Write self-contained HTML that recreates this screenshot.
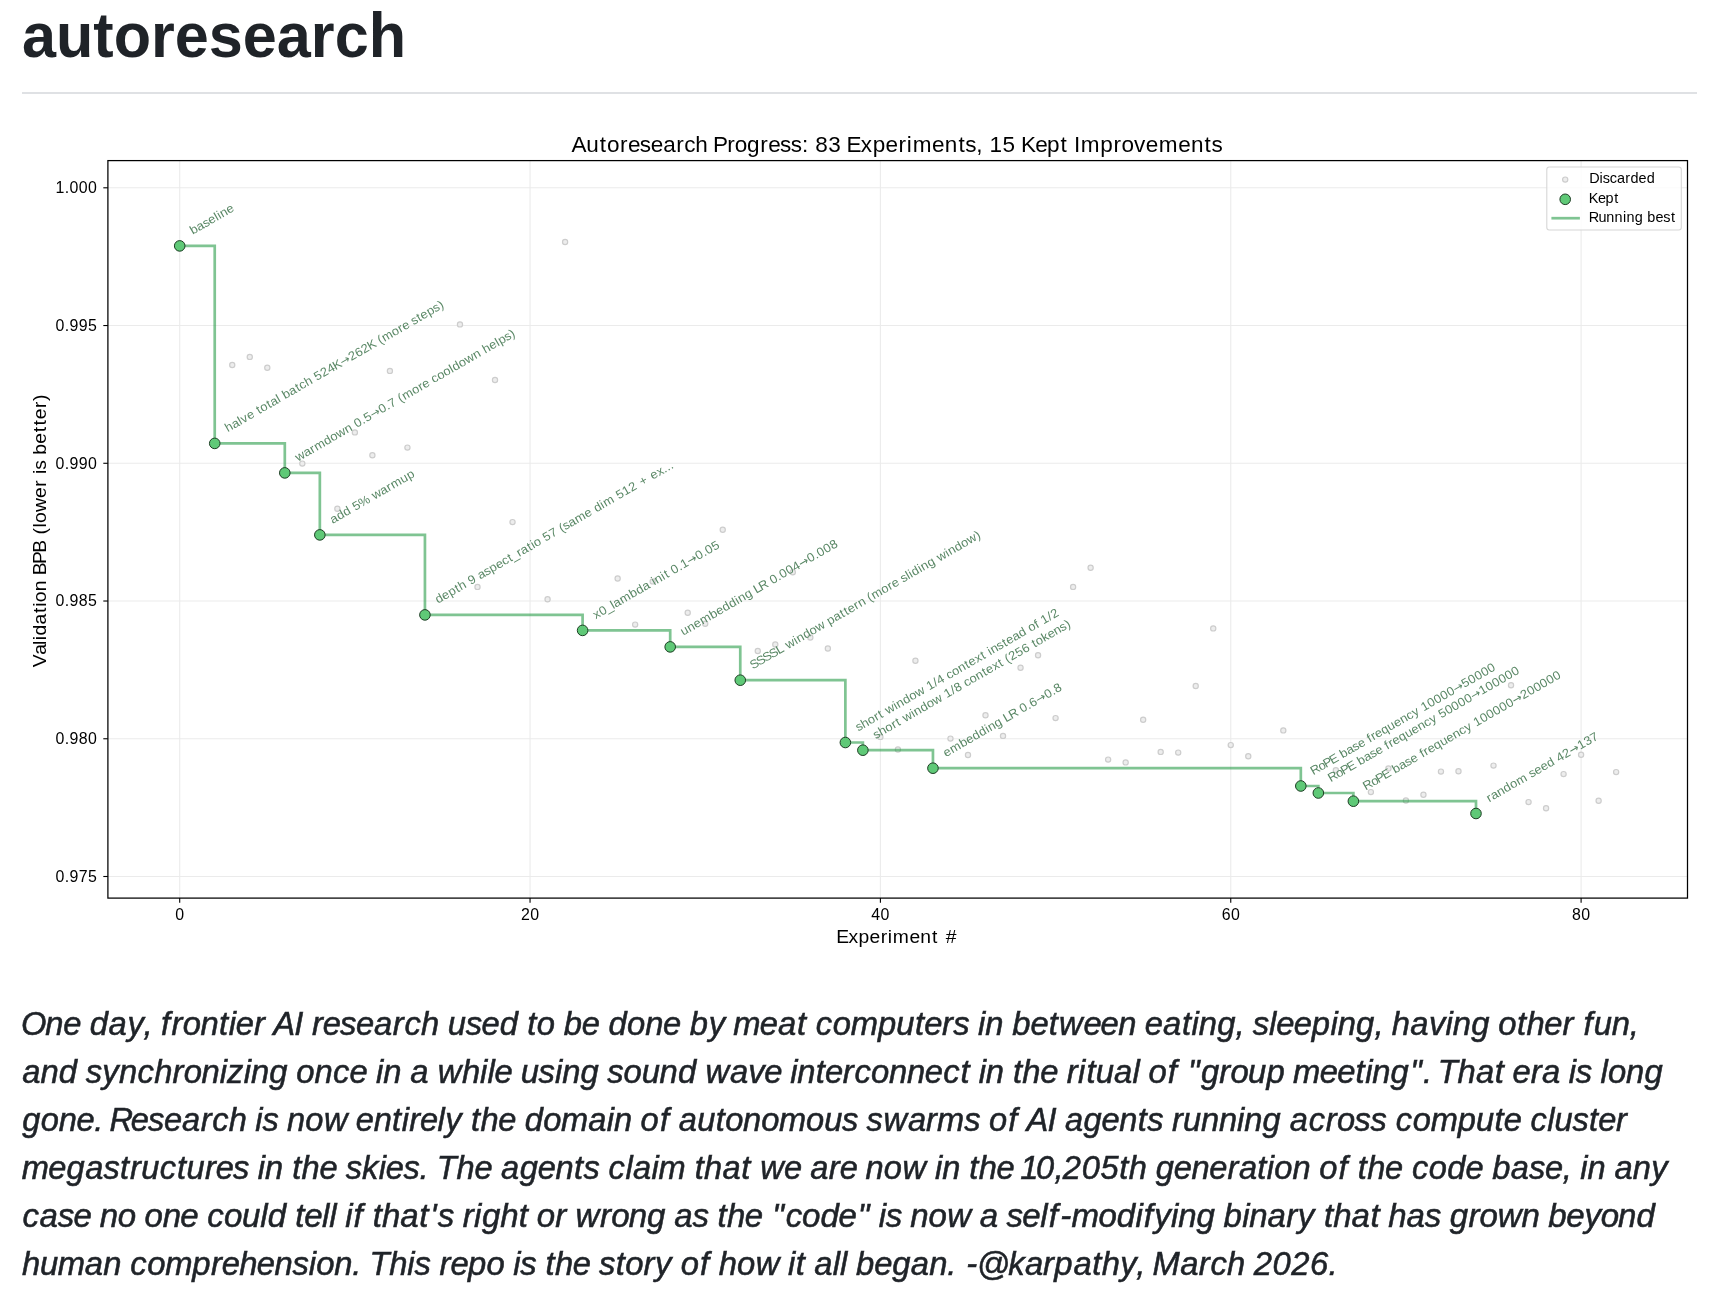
<!DOCTYPE html>
<html><head><meta charset="utf-8"><title>autoresearch</title>
<style>
html,body{margin:0;padding:0;background:#fff;}
body{width:1716px;height:1298px;overflow:hidden;position:relative;font-family:"Liberation Sans", sans-serif;}
svg{position:absolute;left:0;top:0;will-change:transform;}
svg text{font-family:"Liberation Sans", sans-serif;}
</style></head><body>
<svg width="1716" height="1298" viewBox="0 0 1716 1298">
<text x="22" y="57" font-size="63" font-weight="bold" fill="#1f2328" textLength="384" lengthAdjust="spacingAndGlyphs">autoresearch</text>
<rect x="22" y="92" width="1675" height="2" fill="#dfe1e4"/>
<line x1="179.70" y1="160.6" x2="179.70" y2="898.1" stroke="#ebebeb" stroke-width="1.1"/>
<line x1="530.05" y1="160.6" x2="530.05" y2="898.1" stroke="#ebebeb" stroke-width="1.1"/>
<line x1="880.40" y1="160.6" x2="880.40" y2="898.1" stroke="#ebebeb" stroke-width="1.1"/>
<line x1="1230.75" y1="160.6" x2="1230.75" y2="898.1" stroke="#ebebeb" stroke-width="1.1"/>
<line x1="1581.10" y1="160.6" x2="1581.10" y2="898.1" stroke="#ebebeb" stroke-width="1.1"/>
<line x1="107.9" y1="187.80" x2="1687.5" y2="187.80" stroke="#ebebeb" stroke-width="1.1"/>
<line x1="107.9" y1="325.54" x2="1687.5" y2="325.54" stroke="#ebebeb" stroke-width="1.1"/>
<line x1="107.9" y1="463.28" x2="1687.5" y2="463.28" stroke="#ebebeb" stroke-width="1.1"/>
<line x1="107.9" y1="601.02" x2="1687.5" y2="601.02" stroke="#ebebeb" stroke-width="1.1"/>
<line x1="107.9" y1="738.76" x2="1687.5" y2="738.76" stroke="#ebebeb" stroke-width="1.1"/>
<line x1="107.9" y1="876.50" x2="1687.5" y2="876.50" stroke="#ebebeb" stroke-width="1.1"/>
<circle cx="232.25" cy="365.00" r="2.6" fill="#ededed" stroke="#cdcdcd" stroke-width="1.2"/>
<circle cx="249.77" cy="356.90" r="2.6" fill="#ededed" stroke="#cdcdcd" stroke-width="1.2"/>
<circle cx="267.29" cy="367.80" r="2.6" fill="#ededed" stroke="#cdcdcd" stroke-width="1.2"/>
<circle cx="302.32" cy="463.60" r="2.6" fill="#ededed" stroke="#cdcdcd" stroke-width="1.2"/>
<circle cx="337.36" cy="508.80" r="2.6" fill="#ededed" stroke="#cdcdcd" stroke-width="1.2"/>
<circle cx="354.88" cy="432.40" r="2.6" fill="#ededed" stroke="#cdcdcd" stroke-width="1.2"/>
<circle cx="372.39" cy="455.30" r="2.6" fill="#ededed" stroke="#cdcdcd" stroke-width="1.2"/>
<circle cx="389.91" cy="370.90" r="2.6" fill="#ededed" stroke="#cdcdcd" stroke-width="1.2"/>
<circle cx="407.43" cy="447.60" r="2.6" fill="#ededed" stroke="#cdcdcd" stroke-width="1.2"/>
<circle cx="459.98" cy="324.40" r="2.6" fill="#ededed" stroke="#cdcdcd" stroke-width="1.2"/>
<circle cx="477.50" cy="586.90" r="2.6" fill="#ededed" stroke="#cdcdcd" stroke-width="1.2"/>
<circle cx="495.01" cy="380.00" r="2.6" fill="#ededed" stroke="#cdcdcd" stroke-width="1.2"/>
<circle cx="512.53" cy="522.10" r="2.6" fill="#ededed" stroke="#cdcdcd" stroke-width="1.2"/>
<circle cx="547.57" cy="599.30" r="2.6" fill="#ededed" stroke="#cdcdcd" stroke-width="1.2"/>
<circle cx="565.09" cy="242.00" r="2.6" fill="#ededed" stroke="#cdcdcd" stroke-width="1.2"/>
<circle cx="617.64" cy="578.50" r="2.6" fill="#ededed" stroke="#cdcdcd" stroke-width="1.2"/>
<circle cx="635.15" cy="624.60" r="2.6" fill="#ededed" stroke="#cdcdcd" stroke-width="1.2"/>
<circle cx="652.67" cy="581.40" r="2.6" fill="#ededed" stroke="#cdcdcd" stroke-width="1.2"/>
<circle cx="687.71" cy="612.80" r="2.6" fill="#ededed" stroke="#cdcdcd" stroke-width="1.2"/>
<circle cx="705.22" cy="623.70" r="2.6" fill="#ededed" stroke="#cdcdcd" stroke-width="1.2"/>
<circle cx="722.74" cy="529.80" r="2.6" fill="#ededed" stroke="#cdcdcd" stroke-width="1.2"/>
<circle cx="757.78" cy="651.00" r="2.6" fill="#ededed" stroke="#cdcdcd" stroke-width="1.2"/>
<circle cx="775.29" cy="644.50" r="2.6" fill="#ededed" stroke="#cdcdcd" stroke-width="1.2"/>
<circle cx="792.81" cy="572.30" r="2.6" fill="#ededed" stroke="#cdcdcd" stroke-width="1.2"/>
<circle cx="810.33" cy="637.50" r="2.6" fill="#ededed" stroke="#cdcdcd" stroke-width="1.2"/>
<circle cx="827.85" cy="648.50" r="2.6" fill="#ededed" stroke="#cdcdcd" stroke-width="1.2"/>
<circle cx="880.40" cy="736.90" r="2.6" fill="#ededed" stroke="#cdcdcd" stroke-width="1.2"/>
<circle cx="897.92" cy="749.50" r="2.6" fill="#ededed" stroke="#cdcdcd" stroke-width="1.2"/>
<circle cx="915.43" cy="660.70" r="2.6" fill="#ededed" stroke="#cdcdcd" stroke-width="1.2"/>
<circle cx="950.47" cy="738.60" r="2.6" fill="#ededed" stroke="#cdcdcd" stroke-width="1.2"/>
<circle cx="967.99" cy="755.00" r="2.6" fill="#ededed" stroke="#cdcdcd" stroke-width="1.2"/>
<circle cx="985.50" cy="715.30" r="2.6" fill="#ededed" stroke="#cdcdcd" stroke-width="1.2"/>
<circle cx="1003.02" cy="735.90" r="2.6" fill="#ededed" stroke="#cdcdcd" stroke-width="1.2"/>
<circle cx="1020.54" cy="667.80" r="2.6" fill="#ededed" stroke="#cdcdcd" stroke-width="1.2"/>
<circle cx="1038.06" cy="655.20" r="2.6" fill="#ededed" stroke="#cdcdcd" stroke-width="1.2"/>
<circle cx="1055.57" cy="718.10" r="2.6" fill="#ededed" stroke="#cdcdcd" stroke-width="1.2"/>
<circle cx="1073.09" cy="586.90" r="2.6" fill="#ededed" stroke="#cdcdcd" stroke-width="1.2"/>
<circle cx="1090.61" cy="567.80" r="2.6" fill="#ededed" stroke="#cdcdcd" stroke-width="1.2"/>
<circle cx="1108.13" cy="759.60" r="2.6" fill="#ededed" stroke="#cdcdcd" stroke-width="1.2"/>
<circle cx="1125.64" cy="762.40" r="2.6" fill="#ededed" stroke="#cdcdcd" stroke-width="1.2"/>
<circle cx="1143.16" cy="719.80" r="2.6" fill="#ededed" stroke="#cdcdcd" stroke-width="1.2"/>
<circle cx="1160.68" cy="751.90" r="2.6" fill="#ededed" stroke="#cdcdcd" stroke-width="1.2"/>
<circle cx="1178.20" cy="752.60" r="2.6" fill="#ededed" stroke="#cdcdcd" stroke-width="1.2"/>
<circle cx="1195.71" cy="686.00" r="2.6" fill="#ededed" stroke="#cdcdcd" stroke-width="1.2"/>
<circle cx="1213.23" cy="628.40" r="2.6" fill="#ededed" stroke="#cdcdcd" stroke-width="1.2"/>
<circle cx="1230.75" cy="745.10" r="2.6" fill="#ededed" stroke="#cdcdcd" stroke-width="1.2"/>
<circle cx="1248.27" cy="756.30" r="2.6" fill="#ededed" stroke="#cdcdcd" stroke-width="1.2"/>
<circle cx="1283.30" cy="730.40" r="2.6" fill="#ededed" stroke="#cdcdcd" stroke-width="1.2"/>
<circle cx="1335.86" cy="770.20" r="2.6" fill="#ededed" stroke="#cdcdcd" stroke-width="1.2"/>
<circle cx="1370.89" cy="792.10" r="2.6" fill="#ededed" stroke="#cdcdcd" stroke-width="1.2"/>
<circle cx="1388.41" cy="768.50" r="2.6" fill="#ededed" stroke="#cdcdcd" stroke-width="1.2"/>
<circle cx="1405.92" cy="800.50" r="2.6" fill="#ededed" stroke="#cdcdcd" stroke-width="1.2"/>
<circle cx="1423.44" cy="794.70" r="2.6" fill="#ededed" stroke="#cdcdcd" stroke-width="1.2"/>
<circle cx="1440.96" cy="771.60" r="2.6" fill="#ededed" stroke="#cdcdcd" stroke-width="1.2"/>
<circle cx="1458.48" cy="771.20" r="2.6" fill="#ededed" stroke="#cdcdcd" stroke-width="1.2"/>
<circle cx="1493.51" cy="765.60" r="2.6" fill="#ededed" stroke="#cdcdcd" stroke-width="1.2"/>
<circle cx="1511.03" cy="685.20" r="2.6" fill="#ededed" stroke="#cdcdcd" stroke-width="1.2"/>
<circle cx="1528.55" cy="802.10" r="2.6" fill="#ededed" stroke="#cdcdcd" stroke-width="1.2"/>
<circle cx="1546.06" cy="808.30" r="2.6" fill="#ededed" stroke="#cdcdcd" stroke-width="1.2"/>
<circle cx="1563.58" cy="774.10" r="2.6" fill="#ededed" stroke="#cdcdcd" stroke-width="1.2"/>
<circle cx="1581.10" cy="754.80" r="2.6" fill="#ededed" stroke="#cdcdcd" stroke-width="1.2"/>
<circle cx="1598.62" cy="800.80" r="2.6" fill="#ededed" stroke="#cdcdcd" stroke-width="1.2"/>
<circle cx="1616.13" cy="772.10" r="2.6" fill="#ededed" stroke="#cdcdcd" stroke-width="1.2"/>
<path d="M179.70,245.90 L214.73,245.90 L214.73,443.40 L284.80,443.40 L284.80,472.90 L319.84,472.90 L319.84,534.90 L424.94,534.90 L424.94,614.90 L582.60,614.90 L582.60,630.40 L670.19,630.40 L670.19,646.90 L740.26,646.90 L740.26,680.20 L845.37,680.20 L845.37,742.50 L862.88,742.50 L862.88,750.20 L932.95,750.20 L932.95,768.20 L1300.82,768.20 L1300.82,786.00 L1318.34,786.00 L1318.34,793.00 L1353.37,793.00 L1353.37,801.20 L1475.99,801.20 L1475.99,813.50" fill="none" stroke="#2a9c4a" stroke-opacity="0.6" stroke-width="2.7" stroke-linejoin="miter"/>
<g transform="translate(192.70,234.90) rotate(-30)" fill="#5a8866"><text transform="scale(1.05,1)" x="0.12 7.06 13.71 19.68 26.70 29.79 32.81 39.76" y="0" font-size="12.26">baseline</text></g>
<g transform="translate(227.73,432.40) rotate(-30)" fill="#5a8866"><path transform="translate(132.68,0) scale(0.00570,-0.00570)" d="M1616 687V597L1223 204L1103 324L1336 557H117V727H1336L1103 960L1223 1080Z"/><text transform="scale(1.05,1)" x="0.11 7.05 14.05 17.18 23.55 30.45 34.40 38.27 45.56 49.45 56.45 59.42 63.01 69.95 77.25 81.12 87.36 94.36 97.96 105.04 112.12 118.62 135.81 142.89 149.96 156.47 164.27 167.87 172.39 182.91 189.97 194.31 200.96 204.27 210.71 214.60 221.55 228.33 234.42" y="0" font-size="12.26">halve total batch 524K262K (more steps)</text></g>
<g transform="translate(297.80,461.90) rotate(-30)" fill="#5a8866"><path transform="translate(86.49,0) scale(0.00570,-0.00570)" d="M1616 687V597L1223 204L1103 324L1336 557H117V727H1336L1103 960L1223 1080Z"/><text transform="scale(1.05,1)" x="0.12 9.10 16.16 20.80 31.25 38.18 45.12 54.21 61.21 64.81 71.82 75.42 91.82 98.83 102.43 109.45 113.04 117.57 128.09 135.14 139.48 146.14 149.60 155.72 162.52 169.52 172.55 179.48 186.41 195.50 202.50 206.09 213.04 220.05 223.08 229.85 235.94" y="0" font-size="12.26">warmdown 0.50.7 (more cooldown helps)</text></g>
<g transform="translate(332.84,523.90) rotate(-30)" fill="#5a8866"><text transform="scale(1.05,1)" x="-0.00 6.94 14.00 21.00 24.60 31.38 42.19 45.78 54.75 61.82 66.46 76.90 83.96" y="0" font-size="12.26">add 5% warmup</text></g>
<g transform="translate(437.94,603.90) rotate(-30)" fill="#5a8866"><text transform="scale(1.05,1)" x="0.12 7.07 14.02 21.44 25.44 32.44 36.04 43.06 46.52 53.18 59.26 66.21 73.04 79.64 82.89 89.33 93.65 100.95 105.02 107.92 114.80 118.40 125.47 132.49 136.09 140.13 146.09 153.22 163.76 170.65 174.25 181.37 184.59 195.18 198.78 205.85 212.93 219.95 224.50 232.80 236.29 243.34 249.57 253.11 256.64" y="0" font-size="12.26">depth 9 aspect_ratio 57 (same dim 512 + ex...</text></g>
<g transform="translate(595.60,619.40) rotate(-30)" fill="#5a8866"><path transform="translate(108.42,0) scale(0.00570,-0.00570)" d="M1616 687V597L1223 204L1103 324L1336 557H117V727H1336L1103 960L1223 1080Z"/><text transform="scale(1.05,1)" x="0.23 6.71 13.03 19.41 22.31 29.44 40.09 47.15 54.09 60.97 64.62 67.65 74.76 78.15 82.10 85.70 92.71 96.31 112.71 119.72 123.32 130.40" y="0" font-size="12.26">x0_lambda init 0.10.05</text></g>
<g transform="translate(683.19,635.90) rotate(-30)" fill="#5a8866"><path transform="translate(136.35,0) scale(0.00570,-0.00570)" d="M1616 687V597L1223 204L1103 324L1336 557H117V727H1336L1103 960L1223 1080Z"/><text transform="scale(1.05,1)" x="0.11 7.17 14.11 21.25 31.90 38.85 45.81 52.87 59.99 63.01 70.07 77.07 80.23 86.18 94.54 98.14 105.15 108.75 115.83 122.90 139.30 146.31 149.91 156.99 164.07" y="0" font-size="12.26">unembedding LR 0.0040.008</text></g>
<g transform="translate(753.26,669.20) rotate(-30)" fill="#5a8866"><text transform="scale(1.05,1)" x="-0.56 6.50 13.56 20.62 27.93 34.51 38.10 47.26 50.28 57.34 64.27 71.20 80.24 83.84 90.78 98.07 102.43 106.33 113.41 117.85 124.65 128.25 132.78 143.29 150.35 154.69 161.34 164.65 170.79 173.88 176.91 184.04 187.06 194.11 201.12 204.71 213.87 216.89 223.95 230.88 237.82 246.92" y="0" font-size="12.26">SSSSL window pattern (more sliding window)</text></g>
<g transform="translate(858.37,731.50) rotate(-30)" fill="#5a8866"><text transform="scale(1.05,1)" x="-0.17 5.91 12.84 19.90 24.70 28.65 32.24 41.40 44.43 51.48 58.41 65.35 74.39 77.99 85.11 88.82 95.83 99.29 105.41 112.34 119.75 123.65 130.70 137.34 141.29 144.95 147.97 154.73 161.18 165.07 171.90 178.84 185.85 189.31 196.38 200.10 203.70 210.82 214.53" y="0" font-size="12.26">short window 1/4 context instead of 1/2</text></g>
<g transform="translate(875.88,739.20) rotate(-30)" fill="#5a8866"><text transform="scale(1.05,1)" x="-0.17 5.91 12.84 19.90 24.70 28.65 32.24 41.40 44.43 51.48 58.41 65.35 74.39 77.99 85.11 88.82 95.83 99.29 105.41 112.34 119.75 123.65 130.70 137.34 141.29 144.89 149.23 156.31 163.39 170.40 174.35 178.22 185.19 191.49 198.04 204.81 210.90" y="0" font-size="12.26">short window 1/8 context (256 tokens)</text></g>
<g transform="translate(945.95,757.20) rotate(-30)" fill="#5a8866"><path transform="translate(106.68,0) scale(0.00570,-0.00570)" d="M1616 687V597L1223 204L1103 324L1336 557H117V727H1336L1103 960L1223 1080Z"/><text transform="scale(1.05,1)" x="0.01 7.15 17.80 24.75 31.70 38.77 45.89 48.91 55.97 62.97 66.13 72.08 80.44 84.04 91.05 94.65 111.05 118.06 121.66" y="0" font-size="12.26">embedding LR 0.60.8</text></g>
<g transform="translate(1313.82,775.00) rotate(-30)" fill="#5a8866"><path transform="translate(163.88,0) scale(0.00570,-0.00570)" d="M1616 687V597L1223 204L1103 324L1336 557H117V727H1336L1103 960L1223 1080Z"/><text transform="scale(1.05,1)" x="-0.56 7.72 13.30 20.17 27.84 31.43 38.37 45.02 50.99 57.89 61.61 65.52 69.86 76.57 83.63 90.57 97.52 104.45 110.80 117.22 120.82 127.90 134.97 142.05 149.13 165.53 172.60 179.68 186.76 193.83" y="0" font-size="12.26">RoPE base frequency 1000050000</text></g>
<g transform="translate(1331.34,782.00) rotate(-30)" fill="#5a8866"><path transform="translate(163.88,0) scale(0.00570,-0.00570)" d="M1616 687V597L1223 204L1103 324L1336 557H117V727H1336L1103 960L1223 1080Z"/><text transform="scale(1.05,1)" x="-0.56 7.72 13.30 20.17 27.84 31.43 38.37 45.02 50.99 57.89 61.61 65.52 69.86 76.57 83.63 90.57 97.52 104.45 110.80 117.22 120.82 127.90 134.97 142.05 149.13 165.53 172.60 179.68 186.76 193.83 200.91" y="0" font-size="12.26">RoPE base frequency 50000100000</text></g>
<g transform="translate(1366.37,790.20) rotate(-30)" fill="#5a8866"><path transform="translate(171.31,0) scale(0.00570,-0.00570)" d="M1616 687V597L1223 204L1103 324L1336 557H117V727H1336L1103 960L1223 1080Z"/><text transform="scale(1.05,1)" x="-0.56 7.72 13.30 20.17 27.84 31.43 38.37 45.02 50.99 57.89 61.61 65.52 69.86 76.57 83.63 90.57 97.52 104.45 110.80 117.22 120.82 127.90 134.97 142.05 149.13 156.20 172.60 179.68 186.76 193.83 200.91 207.99" y="0" font-size="12.26">RoPE base frequency 100000200000</text></g>
<g transform="translate(1488.99,802.50) rotate(-30)" fill="#5a8866"><path transform="translate(95.46,0) scale(0.00570,-0.00570)" d="M1616 687V597L1223 204L1103 324L1336 557H117V727H1336L1103 960L1223 1080Z"/><text transform="scale(1.05,1)" x="0.24 4.57 11.50 18.56 25.49 32.62 43.21 46.51 52.49 59.33 66.28 73.29 76.89 83.96 100.36 107.44 114.52" y="0" font-size="12.26">random seed 42137</text></g>
<circle cx="179.70" cy="245.90" r="5.3" fill="#5fc977" stroke="#1d3d24" stroke-width="1.0"/>
<circle cx="214.73" cy="443.40" r="5.3" fill="#5fc977" stroke="#1d3d24" stroke-width="1.0"/>
<circle cx="284.80" cy="472.90" r="5.3" fill="#5fc977" stroke="#1d3d24" stroke-width="1.0"/>
<circle cx="319.84" cy="534.90" r="5.3" fill="#5fc977" stroke="#1d3d24" stroke-width="1.0"/>
<circle cx="424.94" cy="614.90" r="5.3" fill="#5fc977" stroke="#1d3d24" stroke-width="1.0"/>
<circle cx="582.60" cy="630.40" r="5.3" fill="#5fc977" stroke="#1d3d24" stroke-width="1.0"/>
<circle cx="670.19" cy="646.90" r="5.3" fill="#5fc977" stroke="#1d3d24" stroke-width="1.0"/>
<circle cx="740.26" cy="680.20" r="5.3" fill="#5fc977" stroke="#1d3d24" stroke-width="1.0"/>
<circle cx="845.37" cy="742.50" r="5.3" fill="#5fc977" stroke="#1d3d24" stroke-width="1.0"/>
<circle cx="862.88" cy="750.20" r="5.3" fill="#5fc977" stroke="#1d3d24" stroke-width="1.0"/>
<circle cx="932.95" cy="768.20" r="5.3" fill="#5fc977" stroke="#1d3d24" stroke-width="1.0"/>
<circle cx="1300.82" cy="786.00" r="5.3" fill="#5fc977" stroke="#1d3d24" stroke-width="1.0"/>
<circle cx="1318.34" cy="793.00" r="5.3" fill="#5fc977" stroke="#1d3d24" stroke-width="1.0"/>
<circle cx="1353.37" cy="801.20" r="5.3" fill="#5fc977" stroke="#1d3d24" stroke-width="1.0"/>
<circle cx="1475.99" cy="813.50" r="5.3" fill="#5fc977" stroke="#1d3d24" stroke-width="1.0"/>
<rect x="107.9" y="160.6" width="1579.60" height="737.50" fill="none" stroke="#000" stroke-width="1.25"/>
<line x1="179.70" y1="898.1" x2="179.70" y2="902.70" stroke="#000" stroke-width="1.1"/>
<text transform="translate(175.06,919.90) scale(1.0,1)" x="0.22" y="0" font-size="15.91" fill="#000" >0</text>
<line x1="530.05" y1="898.1" x2="530.05" y2="902.70" stroke="#000" stroke-width="1.1"/>
<text transform="translate(520.76,919.90) scale(1.0,1)" x="0.22 9.51" y="0" font-size="15.91" fill="#000" >20</text>
<line x1="880.40" y1="898.1" x2="880.40" y2="902.70" stroke="#000" stroke-width="1.1"/>
<text transform="translate(871.11,919.90) scale(1.0,1)" x="0.22 9.51" y="0" font-size="15.91" fill="#000" >40</text>
<line x1="1230.75" y1="898.1" x2="1230.75" y2="902.70" stroke="#000" stroke-width="1.1"/>
<text transform="translate(1221.46,919.90) scale(1.0,1)" x="0.22 9.51" y="0" font-size="15.91" fill="#000" >60</text>
<line x1="1581.10" y1="898.1" x2="1581.10" y2="902.70" stroke="#000" stroke-width="1.1"/>
<text transform="translate(1571.81,919.90) scale(1.0,1)" x="0.22 9.51" y="0" font-size="15.91" fill="#000" >80</text>
<line x1="103.30" y1="187.80" x2="107.9" y2="187.80" stroke="#000" stroke-width="1.1"/>
<text transform="translate(55.40,193.20) scale(1.0,1)" x="0.22 9.40 14.15 23.44 32.73" y="0" font-size="15.91" fill="#000" >1.000</text>
<line x1="103.30" y1="325.54" x2="107.9" y2="325.54" stroke="#000" stroke-width="1.1"/>
<text transform="translate(55.40,330.94) scale(1.0,1)" x="0.22 9.40 14.15 23.44 32.73" y="0" font-size="15.91" fill="#000" >0.995</text>
<line x1="103.30" y1="463.28" x2="107.9" y2="463.28" stroke="#000" stroke-width="1.1"/>
<text transform="translate(55.40,468.68) scale(1.0,1)" x="0.22 9.40 14.15 23.44 32.73" y="0" font-size="15.91" fill="#000" >0.990</text>
<line x1="103.30" y1="601.02" x2="107.9" y2="601.02" stroke="#000" stroke-width="1.1"/>
<text transform="translate(55.40,606.42) scale(1.0,1)" x="0.22 9.40 14.15 23.44 32.73" y="0" font-size="15.91" fill="#000" >0.985</text>
<line x1="103.30" y1="738.76" x2="107.9" y2="738.76" stroke="#000" stroke-width="1.1"/>
<text transform="translate(55.40,744.16) scale(1.0,1)" x="0.22 9.40 14.15 23.44 32.73" y="0" font-size="15.91" fill="#000" >0.980</text>
<line x1="103.30" y1="876.50" x2="107.9" y2="876.50" stroke="#000" stroke-width="1.1"/>
<text transform="translate(55.40,881.90) scale(1.0,1)" x="0.22 9.40 14.15 23.44 32.73" y="0" font-size="15.91" fill="#000" >0.975</text>
<text transform="translate(837.03,942.80) scale(1.05,1)" x="-0.86 10.87 20.57 30.99 41.59 48.35 53.17 68.96 79.37 90.48 96.39 103.47" y="0" font-size="18.38" fill="#000" >Experiment #</text>
<text transform="translate(46,530.6) rotate(-90) translate(-136.13,0.00) scale(1.05,1)" x="-0.43 11.40 20.59 25.23 29.76 40.16 51.09 57.18 61.53 71.91 82.40 87.19 97.93 108.67 120.61 126.01 132.59 136.94 147.32 160.79 171.40 177.98 183.45 187.56 196.59 201.97 212.39 223.34 229.87 235.71 246.31 252.99" y="0" font-size="18.38" fill="#000" >Validation BPB (lower is better)</text>
<text transform="translate(572.02,151.70) scale(1.05,1)" x="-0.50 13.52 26.49 33.27 45.63 53.22 64.46 74.91 86.86 99.23 106.79 117.28 129.53 134.31 147.77 154.99 166.70 179.27 186.87 198.10 208.24 218.98 225.35 231.65 244.04 256.31 261.38 275.08 286.41 298.58 310.97 318.86 324.49 342.93 355.09 368.06 374.57 385.11 391.30 397.60 409.99 422.26 427.56 441.12 452.32 465.30 472.21 478.18 484.57 503.20 515.78 523.34 535.23 546.37 558.87 577.31 589.47 602.44 608.95" y="0" font-size="21.46" fill="#000" >Autoresearch Progress: 83 Experiments, 15 Kept Improvements</text>
<rect x="1546.8" y="167" width="134.5" height="63" rx="2.5" fill="#fff" fill-opacity="0.85" stroke="#d6d6d6" stroke-width="1.1"/>
<circle cx="1565.2" cy="179.6" r="2.6" fill="#ededed" stroke="#cdcdcd" stroke-width="1.2"/>
<circle cx="1565.2" cy="199.3" r="5.3" fill="#5fc977" stroke="#1d3d24" stroke-width="1.0"/>
<line x1="1551.4" y1="218.2" x2="1579.9" y2="218.2" stroke="#2a9c4a" stroke-opacity="0.6" stroke-width="2.7"/>
<text transform="translate(1589.30,183.00) scale(1.05,1)" x="-0.16 9.81 12.88 19.56 26.43 34.35 39.34 46.92 54.72" y="0" font-size="13.76" fill="#000" >Discarded</text>
<text transform="translate(1589.30,202.90) scale(1.05,1)" x="-0.50 8.19 15.37 23.69" y="0" font-size="13.76" fill="#000" >Kept</text>
<text transform="translate(1589.30,222.40) scale(1.05,1)" x="-0.63 8.80 16.14 24.05 32.04 35.43 43.34 51.20 55.22 63.02 70.50 77.72" y="0" font-size="13.76" fill="#000" >Running best</text>
<text transform="translate(22,1035.30) scale(1.0108,1)" x="-1.0 23.0 40.7 58.1 67.1 85.6 104.3 120.3 127.6 137.5 147.9 159.0 176.5 194.9 204.5 211.4 229.4 240.3 248.6 269.4 277.7 286.8 297.5 314.6 330.4 348.3 366.9 378.5 394.7 412.4 421.1 438.9 454.7 472.6 490.6 499.8 509.3 526.9 535.9 553.8 571.3 580.3 598.6 616.6 634.2 651.7 660.7 679.3 695.1 703.6 730.0 748.0 766.7 775.9 785.2 802.0 819.8 846.8 865.0 883.4 892.5 910.2 921.2 937.0 945.8 953.0 970.7 979.7 997.7 1015.8 1025.9 1050.1 1067.0 1084.6 1102.3 1110.7 1128.7 1147.5 1157.0 1164.2 1182.4 1200.5 1209.1 1217.7 1233.8 1240.8 1258.2 1276.1 1294.4 1301.6 1319.8 1338.0 1346.5 1355.2 1373.4 1392.1 1408.3 1415.5 1433.7 1451.7 1460.5 1479.1 1488.4 1506.1 1524.1 1534.9 1544.8 1554.9 1572.7 1590.5" y="0" font-size="32.4" font-style="italic" fill="#1f2328" stroke="#1f2328" stroke-width="0.55">One day, frontier AI research used to be done by meat computers in between eating, sleeping, having other fun,</text>
<text transform="translate(22,1083.30) scale(1.0114,1)" x="0.2 18.3 36.4 54.4 63.0 79.3 95.8 114.2 130.8 148.9 160.0 177.4 195.4 202.8 219.3 226.4 244.5 262.5 271.2 289.1 307.5 323.9 341.3 350.1 357.2 374.8 383.8 401.7 411.1 435.0 452.9 460.2 467.1 484.5 493.1 510.8 526.9 534.1 552.2 570.1 578.7 594.7 612.7 630.4 648.5 666.5 675.8 700.1 718.1 733.9 750.7 759.5 766.6 784.9 794.0 811.6 823.2 839.4 857.3 875.1 892.7 910.8 928.0 937.1 945.9 953.0 970.7 979.8 989.1 1006.7 1024.1 1033.1 1044.2 1052.4 1061.7 1079.8 1098.1 1105.1 1113.8 1132.9 1142.8 1152.8 1165.7 1183.8 1194.9 1212.3 1230.4 1248.4 1256.8 1283.1 1300.4 1318.5 1328.0 1335.1 1353.2 1372.7 1385.3 1391.4 1399.9 1419.4 1437.6 1456.2 1465.4 1473.8 1491.7 1503.0 1520.5 1529.2 1536.3 1552.1 1560.8 1568.1 1586.0 1604.1" y="0" font-size="32.4" font-style="italic" fill="#1f2328" stroke="#1f2328" stroke-width="0.55">and synchronizing once in a while using sound wave interconnect in the ritual of &quot;group meeting&quot;. That era is long</text>
<text transform="translate(22,1131.30) scale(1.0056,1)" x="0.3 18.6 36.6 54.2 71.8 80.4 87.1 108.2 125.4 141.1 159.1 177.7 189.3 205.5 223.1 232.0 239.1 254.9 263.6 281.6 300.3 323.6 332.0 349.7 368.0 377.6 385.1 395.9 413.2 420.8 437.3 446.5 455.9 473.5 491.0 500.0 518.3 536.1 563.1 581.5 588.6 606.3 615.1 634.4 644.2 653.2 671.5 689.9 699.4 717.1 735.1 752.9 779.7 797.7 815.5 831.3 839.9 856.7 881.0 899.0 909.8 936.9 952.7 961.5 980.7 990.6 999.0 1019.8 1028.1 1037.1 1055.6 1073.6 1091.2 1109.6 1118.9 1134.5 1143.5 1154.5 1172.4 1190.3 1208.3 1215.5 1233.7 1251.7 1260.7 1279.5 1296.6 1307.7 1325.1 1341.1 1356.9 1366.2 1383.0 1400.8 1427.8 1446.0 1464.4 1473.5 1490.7 1500.0 1516.8 1523.9 1541.8 1558.3 1567.4 1585.1" y="0" font-size="32.4" font-style="italic" fill="#1f2328" stroke="#1f2328" stroke-width="0.55">gone. Research is now entirely the domain of autonomous swarms of AI agents running across compute cluster</text>
<text transform="translate(22,1179.30) scale(1.0062,1)" x="-0.2 26.2 44.2 62.8 81.0 97.5 107.3 118.4 136.9 154.1 163.5 181.8 192.6 209.7 225.5 234.4 241.6 259.3 268.5 277.9 295.6 313.1 321.7 338.0 354.5 361.5 379.1 395.0 403.6 412.3 431.9 449.6 467.0 476.1 494.7 512.7 530.3 548.7 558.1 573.6 583.0 599.8 607.3 625.7 632.7 659.2 668.5 677.9 696.1 714.9 724.1 733.6 757.3 774.3 783.3 801.9 812.7 829.7 838.4 856.4 875.2 898.5 907.4 914.6 932.3 941.5 950.9 968.6 986.1 992.0 1007.7 1026.1 1034.4 1053.2 1071.9 1090.5 1099.9 1117.7 1126.7 1144.7 1162.4 1180.0 1198.1 1209.4 1227.7 1237.2 1244.6 1262.6 1280.3 1289.2 1308.4 1318.3 1327.5 1336.9 1354.6 1372.1 1381.4 1398.2 1416.6 1434.6 1452.1 1461.1 1479.7 1497.8 1513.6 1531.2 1539.8 1548.6 1555.9 1573.6 1582.6 1600.9 1619.2" y="0" font-size="32.4" font-style="italic" fill="#1f2328" stroke="#1f2328" stroke-width="0.55">megastructures in the skies. The agents claim that we are now in the 10,205th generation of the code base, in any</text>
<text transform="translate(22,1227.30) scale(1.0196,1)" x="0.4 17.1 35.0 50.5 67.8 76.3 94.0 111.6 120.2 138.0 155.3 172.6 181.7 198.2 215.9 233.8 241.1 258.9 268.0 276.9 294.2 301.4 308.3 317.0 325.2 335.0 344.0 353.2 371.1 389.7 400.4 407.7 423.4 432.3 443.3 451.1 469.0 487.2 496.2 504.8 523.0 533.7 542.9 566.9 577.9 595.1 613.0 630.8 639.7 657.5 673.2 682.2 691.4 708.8 726.0 735.9 749.0 765.1 783.1 800.8 819.6 831.5 840.2 847.2 862.8 871.3 889.0 907.4 930.4 939.3 957.1 965.5 981.0 998.6 1006.9 1018.4 1029.3 1055.8 1073.8 1092.0 1100.2 1110.5 1127.0 1134.0 1151.9 1169.8 1178.5 1196.7 1203.7 1221.6 1240.0 1251.2 1267.9 1276.9 1286.1 1304.0 1322.6 1331.6 1340.1 1358.0 1375.9 1391.5 1400.3 1418.7 1429.6 1447.5 1470.7 1488.2 1497.0 1514.6 1532.5 1548.3 1565.4 1583.4" y="0" font-size="32.4" font-style="italic" fill="#1f2328" stroke="#1f2328" stroke-width="0.55">case no one could tell if that's right or wrong as the &quot;code&quot; is now a self-modifying binary that has grown beyond</text>
<text transform="translate(22,1275.30) scale(1.0109,1)" x="-0.1 17.7 35.3 62.2 80.3 97.9 107.2 123.9 141.6 168.5 187.0 197.7 214.8 232.3 249.9 267.6 283.7 291.0 308.9 326.6 335.2 343.7 363.2 381.2 388.3 404.0 413.0 423.8 441.1 459.4 477.2 485.9 493.0 508.8 517.9 527.3 544.8 562.2 570.8 587.3 596.7 614.7 626.1 642.9 651.6 670.8 680.6 689.3 707.2 725.8 749.0 757.8 765.5 774.7 783.6 801.9 809.2 816.2 825.1 843.0 860.9 879.3 897.4 915.2 923.7 934.0 944.4 975.5 992.1 1009.9 1021.2 1040.1 1058.8 1068.1 1086.4 1102.3 1109.6 1118.4 1145.7 1164.2 1175.8 1191.9 1209.5 1218.4 1237.1 1255.7 1274.2 1292.3" y="0" font-size="32.4" font-style="italic" fill="#1f2328" stroke="#1f2328" stroke-width="0.55">human comprehension. This repo is the story of how it all began. -@karpathy, March 2026.</text>
</svg>
</body></html>
